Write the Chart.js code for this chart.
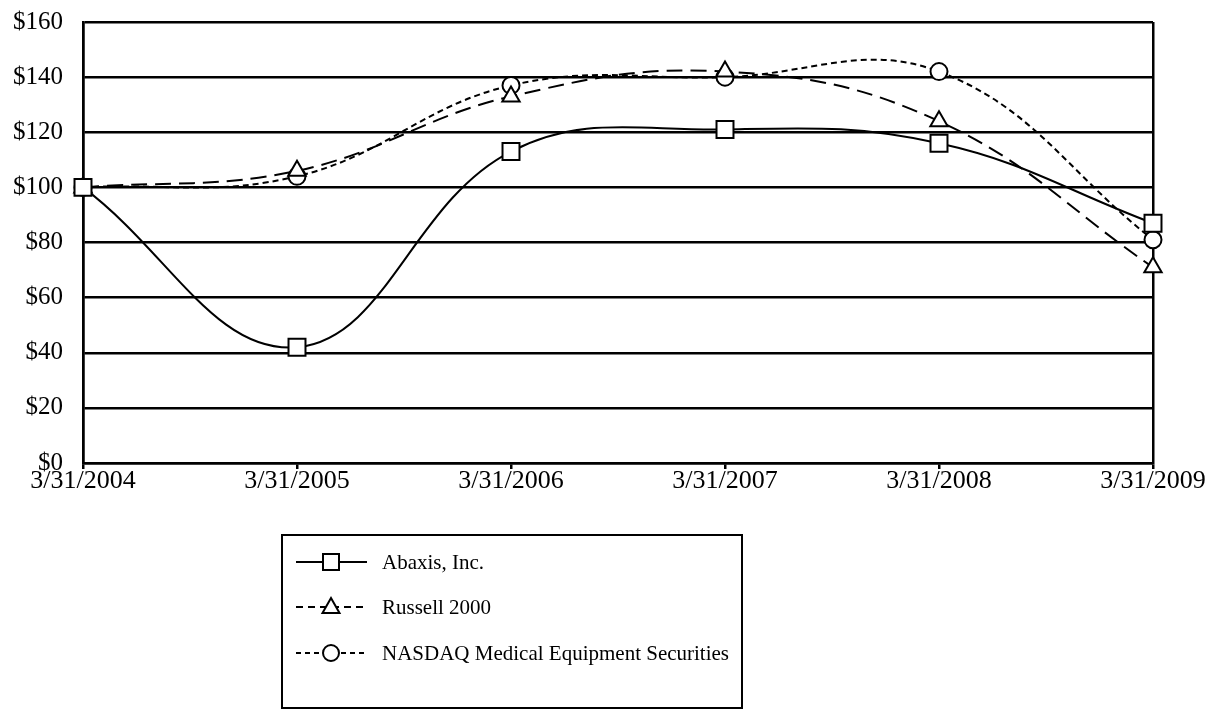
<!DOCTYPE html>
<html>
<head>
    <meta charset="UTF-8">
    <title>Abaxis cumulative return</title>
    <script src="https://cdn.jsdelivr.net/npm/chart.js@4.4.1/dist/chart.umd.min.js"></script>
    <style>
        html, body { margin: 0; padding: 0; background: #fff; }
        #wrap { width: 1211px; height: 710px; }
    </style>
</head>
<body>
<div id="wrap"><canvas id="myChart" width="1211" height="710"></canvas></div>
<script>
    // values
    var dates = ['3/31/2004', '3/31/2005', '3/31/2006', '3/31/2007', '3/31/2008', '3/31/2009'];
    var abaxis = [100, 42, 113, 121, 116, 87];
    var russell = [100, 106, 133, 142, 124, 71];
    var nasdaq = [100, 104, 137, 140, 142, 81];
    var seriesNames = ['Abaxis, Inc.', 'Russell 2000', 'NASDAQ Medical Equipment Securities'];
    var yTicks = [0, 20, 40, 60, 80, 100, 120, 140, 160];

    var serif = '"Liberation Serif", "Times New Roman", serif';

    function series(name, data, dash, style, radius) {
        return {
            label: name,
            data: data,
            borderColor: '#000',
            borderWidth: 2,
            borderDash: dash,
            tension: 0.4,
            fill: false,
            pointStyle: style,
            pointRadius: radius,
            pointBorderWidth: 2,
            pointBorderColor: '#000',
            pointBackgroundColor: '#fff'
        };
    }

    // boxed legend under the plot, line sample + marker + name
    var boxLegend = {
        id: 'boxLegend',
        afterDraw: function(chart) {
            var ctx = chart.ctx;
            var left = 282, top = 535, w = 460, h = 173;
            ctx.save();
            ctx.strokeStyle = '#000';
            ctx.lineWidth = 2;
            ctx.setLineDash([]);
            ctx.strokeRect(left, top, w, h);
            var rows = [562, 607, 653];
            chart.data.datasets.forEach(function(ds, i) {
                var y = rows[i];
                ctx.lineWidth = 2;
                ctx.setLineDash(i === 0 ? [] : (i === 1 ? [7, 5] : [5, 4]));
                ctx.beginPath();
                ctx.moveTo(296, y);
                ctx.lineTo(367, y);
                ctx.stroke();
                ctx.setLineDash([]);
                ctx.fillStyle = '#fff';
                ctx.beginPath();
                var cx = 331;
                if (ds.pointStyle === 'rect') {
                    ctx.rect(cx - 8, y - 8, 16, 16);
                } else if (ds.pointStyle === 'triangle') {
                    ctx.moveTo(cx, y - 9);
                    ctx.lineTo(cx + 8.5, y + 6);
                    ctx.lineTo(cx - 8.5, y + 6);
                    ctx.closePath();
                } else {
                    ctx.arc(cx, y, 8, 0, Math.PI * 2);
                }
                ctx.fill();
                ctx.stroke();
                ctx.fillStyle = '#000';
                ctx.font = '21px ' + serif;
                ctx.textBaseline = 'middle';
                ctx.textAlign = 'left';
                ctx.fillText(ds.label, 382, y + 1);
            });
            ctx.restore();
        }
    };

    var lastIdx = dates.length - 1;

    new Chart('myChart', {
        type: 'line',
        data: {
            labels: dates,
            datasets: [
                series(seriesNames[0], abaxis, [], 'rect', 12),
                series(seriesNames[1], russell, [16, 8], 'triangle', 10),
                series(seriesNames[2], nasdaq, [6, 4], 'circle', 8.5)
            ]
        },
        options: {
            responsive: false,
            animation: false,
            layout: { padding: { top: 22, right: 58, left: 0, bottom: 0 } },
            plugins: {
                legend: { display: false },
                tooltip: { enabled: false }
            },
            scales: {
                x: {
                    offset: false,
                    afterFit: function(scale) { scale.height = 247; },
                    grid: {
                        color: function(c) {
                            return (c.index === 0 || c.index === lastIdx) ? '#000' : 'rgba(0,0,0,0)';
                        },
                        tickColor: '#000',
                        lineWidth: 2.5,
                        tickLength: 6,
                        drawOnChartArea: true
                    },
                    border: { display: true, color: '#000', width: 2.5 },
                    ticks: {
                        color: '#000',
                        font: { family: serif, size: 26, lineHeight: 1 },
                        maxRotation: 0,
                        autoSkip: false,
                        padding: -1
                    }
                },
                y: {
                    min: 0,
                    max: 160,
                    afterFit: function(scale) {
                        scale.width = 83;
                        scale.paddingTop = 0;
                        scale.paddingBottom = 0;
                    },
                    afterBuildTicks: function(scale) {
                        scale.ticks = yTicks.map(function(v) { return { value: v }; });
                    },
                    grid: {
                        color: '#000',
                        lineWidth: 2.5,
                        drawTicks: false
                    },
                    border: { display: true, color: '#000', width: 2.5 },
                    ticks: {
                        color: '#000',
                        font: { family: serif, size: 25 },
                        padding: 20,
                        callback: function(v) { return '$' + v; }
                    }
                }
            }
        },
        plugins: [boxLegend]
    });
</script>
</body>
</html>
